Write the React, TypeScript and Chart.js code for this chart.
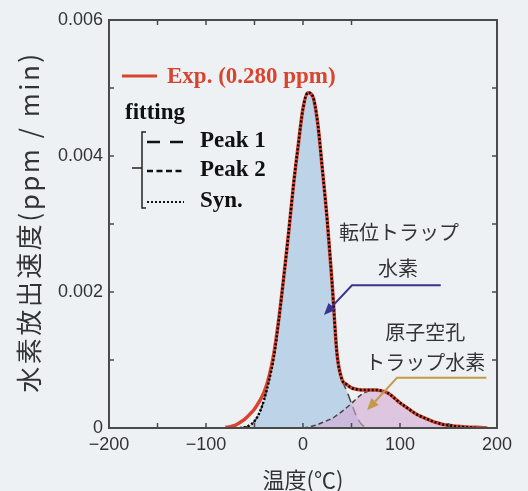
import React, { useEffect, useRef } from 'react';
import { Chart, registerables } from 'chart.js';

Chart.register(...registerables);

// ---------- DATA ----------
const temps = [
  -80, -75, -70, -65, -60, -55, -50, -45, -40, -35, -30, -25, -20, -15, -10, -5,
  0, 5, 10, 15, 20, 25, 30, 35, 40, 45, 50, 55, 60, 65, 70, 75, 80, 85, 90, 95,
  100, 105, 110, 115, 120, 125, 130, 135, 140, 145, 150, 155, 160, 165, 170, 175,
  180, 185, 190,
];

const expRate = [
  0.00001, 0.00002, 0.00004, 0.00008, 0.00013, 0.0002, 0.00028, 0.00039, 0.00053, 0.00076, 0.0011, 0.0016, 0.0022, 0.00285, 0.00355, 0.00415,
  0.0047, 0.00493, 0.00488, 0.0045, 0.0038, 0.00305, 0.00213, 0.0011, 0.00072, 0.00064, 0.00059, 0.00057, 0.00056, 0.00056, 0.00056, 0.00056, 0.00055, 0.00053, 0.00049, 0.00043,
  0.00037, 0.00032, 0.00027, 0.00022, 0.00018, 0.00015, 0.00012, 0.00009, 0.00007, 0.00005, 0.00004, 0.00003, 0.000025, 0.00002, 0.000015, 0.00001,
  0.00001, 0.000005, 0,
];

const synRate = [
  null, null, null, 0, 0.00001, 0.00004, 0.0001, 0.00022, 0.00042, 0.0007, 0.00105, 0.00158, 0.0022, 0.00285, 0.00355, 0.00415,
  0.0047, 0.00493, 0.00488, 0.0045, 0.0038, 0.00305, 0.00213, 0.0011, 0.00072, 0.00064, 0.00059, 0.00057, 0.00056, 0.00056, 0.00056, 0.00056, 0.00055, 0.00053, 0.00049, 0.00043,
  0.00037, 0.00032, 0.00027, 0.00022, 0.00018, 0.00015, 0.00012, 0.00009, 0.00007, 0.00005, 0.00004, 0.00003, 0.00002, 0.000015, 0.00001, 0.000005,
  0, null, null,
];

const peak1Rate = [
  null, null, null, 0, 0.00001, 0.00004, 0.0001, 0.00022, 0.00042, 0.0007, 0.00105, 0.00158, 0.0022, 0.00285, 0.00355, 0.00415,
  0.0047, 0.00493, 0.00488, 0.0045, 0.0038, 0.00305, 0.00213, 0.0011, 0.00072, 0.00055, 0.00036, 0.00018, 0.00006, 0.00001, 0, 0, null, null, null, null,
  null, null, null, null, null, null, null, null, null, null, null, null, null, null, null, null,
  null, null, null,
];

const peak2Rate = [
  null, null, null, null, null, null, null, null, null, null, null, null, null, null, null, null,
  0, 0.00001, 0.00003, 0.00005, 0.00008, 0.00011, 0.00014, 0.00019, 0.00024, 0.0003, 0.00036, 0.00043, 0.00049, 0.00053, 0.00055, 0.00056, 0.00055, 0.00053, 0.00049, 0.00043,
  0.00037, 0.00032, 0.00027, 0.00022, 0.00018, 0.00015, 0.00012, 0.00009, 0.00007, 0.00005, 0.00004, 0.00003, 0.00002, 0.000015, 0.00001, 0.000005,
  0, null, null,
];

const xTickValues = [-200, -150, -100, -50, 0, 50, 100, 150, 200];
const yTickValues = [0, 0.001, 0.002, 0.003, 0.004, 0.005, 0.006];

const legendTitle = 'fitting';
const expLabel = 'Exp. (0.280 ppm)';
const peak1Label = 'Peak 1';
const peak2Label = 'Peak 2';
const synLabel = 'Syn.';
const yTitle = '水素放出速度(ppm / min)';
const xTitle = '温度(℃)';

const dislocationLabel = ['転位トラップ', '水素'];
const vacancyLabel = ['原子空孔', 'トラップ水素'];

// ---------- STYLE ----------
const BG = '#eef1f3';
const RED = '#d8442e';
const BLUE_FILL = '#bdd3e8';
const PINK_FILL = 'rgba(214,170,212,0.6)';
const PURPLE = '#3b338f';
const GOLD = '#c49a4a';
const TEXT = '#333333';
const JP = '"Noto Sans CJK JP", "Noto Sans", sans-serif';
const SERIF = '"Liberation Serif", "DejaVu Serif", serif';
const SANS = '"Liberation Sans", Arial, sans-serif';

const toPts = (vals: (number | null)[]) => temps.map((t, i) => ({ x: t, y: vals[i] }));

function arrow(ctx: CanvasRenderingContext2D, pts: [number, number][], color: string) {
  ctx.save();
  ctx.strokeStyle = color;
  ctx.fillStyle = color;
  ctx.lineWidth = 2;
  ctx.setLineDash([]);
  const n = pts.length;
  const [hx, hy] = pts[n - 1];
  const [px, py] = pts[n - 2];
  const ang = Math.atan2(hy - py, hx - px);
  const L = 12, W = 5;
  const bx = hx - Math.cos(ang) * L, by = hy - Math.sin(ang) * L;
  ctx.beginPath();
  ctx.moveTo(pts[0][0], pts[0][1]);
  for (let i = 1; i < n - 1; i++) ctx.lineTo(pts[i][0], pts[i][1]);
  ctx.lineTo(bx, by);
  ctx.stroke();
  ctx.beginPath();
  ctx.moveTo(hx, hy);
  ctx.lineTo(bx + Math.sin(ang) * W, by - Math.cos(ang) * W);
  ctx.lineTo(bx - Math.sin(ang) * W, by + Math.cos(ang) * W);
  ctx.closePath();
  ctx.fill();
  ctx.restore();
}

const decor = {
  id: 'decor',
  beforeDraw(chart: any) {
    const { ctx, width, height } = chart;
    ctx.save();
    ctx.fillStyle = BG;
    ctx.fillRect(0, 0, width, height);
    ctx.restore();
  },
  afterDraw(chart: any) {
    const { ctx, chartArea: a, scales } = chart;
    const xs = scales.x, ys = scales.y;
    ctx.save();
    ctx.strokeStyle = '#4a4a4a';
    ctx.lineWidth = 2;
    ctx.setLineDash([]);
    ctx.strokeRect(a.left, a.top, a.right - a.left, a.bottom - a.top);
    ctx.lineWidth = 1.5;
    const tl = 5;
    ctx.beginPath();
    xTickValues.slice(1, -1).forEach((v) => {
      const px = xs.getPixelForValue(v);
      ctx.moveTo(px, a.bottom);
      ctx.lineTo(px, a.bottom - tl);
      if (v <= 50) {
        ctx.moveTo(px, a.top);
        ctx.lineTo(px, a.top + tl);
      }
    });
    yTickValues.slice(1, -1).forEach((v) => {
      const py = ys.getPixelForValue(v);
      ctx.moveTo(a.left, py);
      ctx.lineTo(a.left + tl, py);
      ctx.moveTo(a.right, py);
      ctx.lineTo(a.right - tl, py);
    });
    ctx.stroke();

    // titles
    ctx.fillStyle = TEXT;
    ctx.textAlign = 'center';
    ctx.textBaseline = 'middle';
    ctx.font = `26px ${JP}`;
    ctx.save();
    (ctx as any).letterSpacing = '2.5px';
    ctx.translate(29, (a.top + a.bottom) / 2 - 2);
    ctx.rotate(-Math.PI / 2);
    ctx.fillText(yTitle, 0, 0);
    ctx.restore();
    ctx.font = `22px ${JP}`;
    ctx.fillText(xTitle, (a.left + a.right) / 2, 480);

    // legend
    const L = a.left, T = a.top;
    ctx.textAlign = 'left';
    ctx.strokeStyle = RED;
    ctx.lineWidth = 3;
    ctx.beginPath();
    ctx.moveTo(L + 13, T + 56);
    ctx.lineTo(L + 48, T + 56);
    ctx.stroke();
    ctx.fillStyle = RED;
    ctx.font = `bold 23px ${SERIF}`;
    ctx.fillText(expLabel, L + 58, T + 57);

    ctx.fillStyle = '#111';
    ctx.fillText(legendTitle, L + 16, T + 93);
    ctx.strokeStyle = '#222';
    ctx.lineWidth = 1.5;
    ctx.beginPath();
    ctx.moveTo(L + 37, T + 112);
    ctx.lineTo(L + 33, T + 112);
    ctx.lineTo(L + 33, T + 188);
    ctx.lineTo(L + 37, T + 188);
    ctx.moveTo(L + 23, T + 148);
    ctx.lineTo(L + 33, T + 148);
    ctx.stroke();

    const samples: [string, number, number[], number][] = [
      [peak1Label, T + 120, [13, 10], 2.5],
      [peak2Label, T + 149, [6, 3.5], 2.5],
      [synLabel, T + 180, [2, 2], 2],
    ];
    samples.forEach(([lab, yy, dash, lw]) => {
      ctx.strokeStyle = '#111';
      ctx.lineWidth = lw;
      ctx.setLineDash(dash);
      ctx.beginPath();
      ctx.moveTo(L + 38, yy + 2);
      ctx.lineTo(L + 75, yy + 2);
      ctx.stroke();
      ctx.setLineDash([]);
      ctx.fillText(lab, L + 91, yy + 1);
    });

    // annotations
    ctx.fillStyle = TEXT;
    ctx.textAlign = 'center';
    ctx.font = `20px ${JP}`;
    ctx.fillText(dislocationLabel[0], xs.getPixelForValue(99), ys.getPixelForValue(0.00287));
    ctx.fillText(dislocationLabel[1], xs.getPixelForValue(98), ys.getPixelForValue(0.00235));
    ctx.fillText(vacancyLabel[0], xs.getPixelForValue(126), ys.getPixelForValue(0.00141));
    ctx.fillText(vacancyLabel[1], xs.getPixelForValue(126), ys.getPixelForValue(0.00096));

    const P = (t: number, v: number): [number, number] => [xs.getPixelForValue(t), ys.getPixelForValue(v)];
    arrow(ctx, [P(142, 0.0021), P(50.5, 0.0021), P(21.6, 0.00166)], PURPLE);
    arrow(ctx, [P(189, 0.00074), P(97, 0.00074), P(66, 0.00026)], GOLD);
    ctx.restore();
  },
};

export default function App() {
  const ref = useRef<HTMLCanvasElement>(null);
  useEffect(() => {
    document.body.style.margin = '0';
    document.body.style.background = BG;
    const chart = new Chart(ref.current!, {
      type: 'line',
      data: {
        datasets: [
          {
            label: synLabel,
            data: toPts(synRate) as any,
            borderColor: '#000',
            borderWidth: 2.5,
            borderDash: [2, 2],
            pointRadius: 0,
            fill: false,
            cubicInterpolationMode: 'monotone',
            order: 0,
          },
          {
            label: expLabel,
            data: toPts(expRate) as any,
            borderColor: RED,
            borderWidth: 3.5,
            pointRadius: 0,
            fill: false,
            cubicInterpolationMode: 'monotone',
            order: 1,
          },
          {
            label: peak2Label,
            data: toPts(peak2Rate) as any,
            borderColor: '#444',
            borderWidth: 1.5,
            borderDash: [5, 3],
            pointRadius: 0,
            fill: 'origin',
            backgroundColor: PINK_FILL,
            cubicInterpolationMode: 'monotone',
            order: 2,
          },
          {
            label: peak1Label,
            data: toPts(peak1Rate) as any,
            borderColor: '#444',
            borderWidth: 1.5,
            borderDash: [9, 5],
            pointRadius: 0,
            fill: 'origin',
            backgroundColor: BLUE_FILL,
            cubicInterpolationMode: 'monotone',
            order: 3,
          },
        ],
      },
      options: {
        responsive: false,
        devicePixelRatio: 1,
        animation: false,
        layout: { padding: { top: 20, right: 31, left: 0, bottom: 0 } },
        plugins: { legend: { display: false }, tooltip: { enabled: false } },
        scales: {
          x: {
            type: 'linear',
            min: -200,
            max: 200,
            grid: { display: false, drawTicks: false, tickLength: 0 },
            border: { display: false },
            ticks: {
              stepSize: 50,
              autoSkip: false,
              maxRotation: 0,
              padding: 6,
              color: TEXT,
              font: { size: 18, family: SANS },
              callback: (v: any) => (v % 100 === 0 ? (v < 0 ? '\u2212' + Math.abs(v) : String(v)) : ''),
            },
            afterFit: (s: any) => {
              s.height = 63;
            },
          },
          y: {
            type: 'linear',
            min: 0,
            max: 0.006,
            grid: { display: false, drawTicks: false, tickLength: 0 },
            border: { display: false },
            ticks: {
              stepSize: 0.001,
              autoSkip: false,
              padding: 6,
              color: TEXT,
              font: { size: 18, family: SANS },
              callback: (v: any) => {
                const k = Math.round(v * 1000);
                if (k % 2 !== 0) return '';
                return k === 0 ? '0' : (k / 1000).toFixed(3);
              },
            },
            afterFit: (s: any) => {
              s.width = 109;
            },
          },
        },
      },
      plugins: [decor],
    });
    return () => chart.destroy();
  }, []);
  return (
    <div style={{ width: 528, height: 491, background: BG }}>
      <canvas ref={ref} width={528} height={491} style={{ display: 'block', width: 528, height: 491 }} />
    </div>
  );
}
